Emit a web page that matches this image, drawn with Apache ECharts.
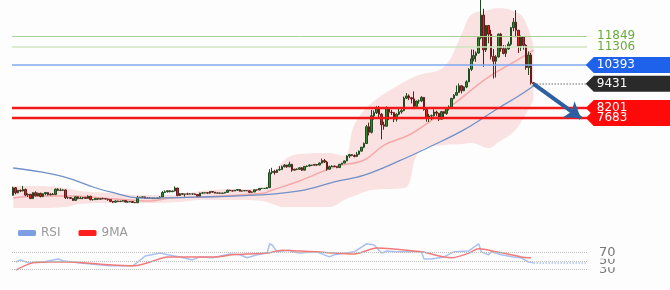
<!DOCTYPE html>
<html><head><meta charset="utf-8">
<script src="https://cdn.jsdelivr.net/npm/echarts@6/dist/echarts.min.js"></script>
<style>html,body{margin:0;padding:0;background:#fdfdfd}#c{width:670px;height:290px}</style>
</head><body><div id="c"></div>
<script>
// ---- data ----
const startDate = '2018-12-20';
const slotCount = 231;              // candles + empty room on the right
const firstOpen = 3750;
const closes = [
4130,3880,4000,3970,4050,3760,3800,3580,3880,3720,
3850,3690,3830,3890,3780,3810,3790,4060,4000,4010,
4020,3630,3630,3590,3490,3670,3580,3610,3640,3590,
3700,3530,3530,3590,3550,3580,3570,3560,3530,3440,
3400,3460,3430,3450,3480,3410,3410,3430,3380,3370,
3650,3640,3670,3590,3610,3600,3580,3590,3610,3660,
3890,3930,3980,3930,3970,4120,3740,3830,3800,3820,
3810,3820,3820,3790,3700,3860,3870,3880,3860,3940,
3910,3860,3870,3850,3860,3900,4010,3980,3970,4010,
4040,3960,3980,3990,3980,3900,3920,4030,4020,4100,
4100,4100,4140,4900,4970,4910,5040,5060,5200,5290,
5200,5330,5030,5080,5070,5150,5030,5220,5240,5290,
5280,5320,5290,5390,5520,5440,5080,5210,5240,5210,
5160,5330,5390,5500,5750,5820,5780,5730,5840,6000,
6200,6390,7240,6960,7800,7960,8200,7880,7340,7270,
8190,7980,7960,7630,7880,8000,8060,8700,8810,8720,
8660,8280,8550,8560,8740,8120,7670,7790,7800,7990,
7930,7630,8010,7920,8170,8230,8690,8850,8990,9330,
9080,9270,9530,10170,10700,10870,11000,11780,12930,11160,
12400,11960,10820,10580,10800,11960,11220,10980,11210,11450,
12290,12570,12160,11360,11820,11390,10260,10900,9480,9431];
const lows = [
3740,3800,3850,3910,3950,3720,3660,3560,3570,3700,
3700,3640,3650,3760,3740,3740,3760,3760,3970,3960,
3970,3560,3560,3560,3460,3480,3550,3560,3550,3580,
3580,3490,3480,3520,3510,3540,3550,3550,3470,3400,
3350,3390,3420,3410,3430,3390,3390,3400,3370,3350,
3360,3610,3600,3570,3580,3580,3560,3560,3580,3590,
3650,3870,3890,3900,3920,3950,3700,3720,3770,3680,
3790,3790,3780,3770,3680,3690,3820,3840,3820,3840,
3890,3840,3840,3830,3830,3850,3890,3970,3950,3960,
3980,3950,3950,3960,3960,3860,3880,3910,3990,4010,
4070,4080,4080,4130,4820,4800,4890,5000,5050,5170,
5150,5180,4950,5010,5030,5040,4990,5020,5180,5220,
5240,5260,5250,5280,5370,5400,5000,5060,5190,5190,
5130,5150,5320,5380,5490,5650,5740,5680,5720,5810,
5980,6150,6380,6800,6900,7600,7890,7700,6600,7090,
7260,7580,7840,7480,7510,7830,7910,8040,8650,8600,
8430,8140,8230,8420,8500,8060,7500,7480,7580,7760,
7790,7530,7610,7730,7850,8070,8180,8640,8830,8970,
8940,9050,9210,9520,10080,10570,10550,10960,11700,10300,
11050,11500,10670,9700,9750,10770,11070,10930,10800,11150,
11370,12110,11800,11000,11110,11170,10150,9880,9390,9370];
const highs = [
4190,4170,4010,4040,4230,4090,3850,3820,3900,3950,
3890,3880,3850,3920,3890,3850,3860,4090,4110,4100,
4060,4040,3680,3650,3610,3700,3690,3680,3650,3660,
3750,3720,3560,3610,3590,3600,3630,3590,3570,3540,
3450,3480,3480,3470,3500,3480,3440,3450,3440,3410,
3720,3670,3680,3680,3650,3660,3620,3630,3630,3700,
3960,4000,4000,4010,3990,4200,4130,3860,3850,3830,
3880,3860,3840,3840,3800,3880,3910,3920,3900,3950,
3960,3920,3890,3890,3880,3920,4030,4030,4010,4020,
4060,4060,4010,4010,4000,3990,3940,4040,4050,4110,
4130,4120,4170,5080,5150,5050,5060,5230,5270,5340,
5300,5460,5350,5100,5120,5170,5190,5240,5270,5320,
5300,5350,5340,5420,5620,5600,5500,5260,5280,5260,
5220,5340,5400,5520,5790,5850,5840,5830,5960,6030,
6200,6440,7330,7450,8100,8070,8290,8300,7940,7500,
8280,8200,8100,7980,7930,8160,8150,8780,8960,8890,
8760,9040,8570,8630,8800,8750,8130,7900,7860,8130,
8060,7950,8050,8020,8200,8330,8700,8900,9340,9450,
9350,9300,9610,10230,11180,11170,11080,11780,13880,13250,
12430,12430,12180,11200,10890,12000,12020,11400,11380,11580,
12330,12780,13180,12160,11890,11830,11450,11080,11000,9520];

// moving averages (sparse readings: candle index, value)
const maFastX = [0,11,23,35,47,55,63,75,91,101,103,115,129,141,149,159,167,179,191,204,209];
const maFastY = [3610,3710,3710,3610,3510,3460,3610,3660,3770,3870,3970,4480,5190,5550,6310,6820,7480,8600,9780,10750,11150];
const maSlowX = [0,11,22,31,39,51,75,99,115,129,141,155,168,181,195,203,209];
const maSlowY = [5140,4940,4630,4220,3920,3610,3660,3770,3970,4430,4780,5500,6260,7080,8200,8810,9320];

// envelope band (sparse readings)
const bandX = [0,11,21,27,39,51,67,75,91,100,103,109,115,127,133,137,144,157,163,173,180,184,191,195,201,205,209];
const bandUpper = [4220,4220,4120,3970,3870,3770,3770,3970,4070,4070,4630,5550,5850,5900,5750,7330,8450,9520,9880,10290,11920,12940,13190,13290,13140,12780,11410];
const bandLower = [3100,3100,3150,3310,3360,3360,3410,3510,3510,3460,3360,3150,3150,3150,3510,3710,4020,4120,5960,6310,6360,6410,6160,6470,6980,7690,8600];

// RSI panel (sparse readings)
const rsiX = [1,3,6,10,12,18,20,26,32,39,48,50,53,59,62,67,72,75,80,87,91,94,98,102,103,104,106,111,112,115,122,127,129,137,142,145,148,150,154,164,165,168,173,177,183,187,188,191,192,196,201,204,207,209];
const rsiY = [47,52,45,47,47,54,50,45,42,38,38,47,61,68,64,59,52,59,57,66,64,57,64,68,90,87,71,75,71,68,71,59,64,71,90,87,68,73,71,71,54,54,59,71,73,90,71,64,71,64,59,57,47,45];
const rsiMaX = [1,8,15,22,35,48,55,62,70,82,88,102,108,115,122,129,137,146,152,164,176,183,187,194,200,204,208];
const rsiMaY = [28,45,47,47,42,38,47,59,59,59,64,68,75,73,71,68,66,80,78,71,57,68,78,71,64,59,57];
const rsiLevels = [30, 50, 70];

// price levels
const greenLevels = [11849, 11306];
const blueLevel = 10393;
const redLevels = [8201, 7683];
const lastPrice = 9431;
const lastRsi = 45;

// ---- build ----
const cats = [];
const t0 = Date.parse(startDate + 'T00:00:00Z');
for (let i = 0; i < slotCount; i++) cats.push(new Date(t0 + i * 864e5).toISOString().slice(0, 10));
const ohlc = closes.map((c, i) => [i === 0 ? firstOpen : closes[i - 1], c, lows[i], highs[i]]);
const pairs = (xs, ys) => xs.map((x, i) => [x, ys[i]]);
const bandDiff = bandUpper.map((u, i) => u - bandLower[i]);
const lastIdx = closes.length - 1;
const edgeIdx = slotCount - 1;
const FONT = 'DejaVu Sans';

function tag(value, color) {
  return {
    coord: [cats[edgeIdx], value],
    symbol: 'path://M0,8L8,0L100,0L100,16L8,16Z',
    symbolSize: [100, 16], symbolOffset: [50, 0],
    itemStyle: { color: color },
    label: { show: true, formatter: String(value), color: '#fff', fontSize: 12, fontFamily: FONT,
             position: 'inside', align: 'left', offset: [-39, 0] }
  };
}

const option = {
  animation: false,
  backgroundColor: '#fdfdfd',
  textStyle: { fontFamily: FONT },
  legend: {
    data: [{ name: 'RSI', itemStyle: { color: '#7d9ee2' } }, { name: '9MA', itemStyle: { color: '#ff1e1e' } }],
    icon: 'roundRect', itemWidth: 18, itemHeight: 6, itemGap: 18,
    left: 13, top: 222,
    textStyle: { color: '#999', fontSize: 12, fontFamily: FONT }
  },
  grid: [
    { left: 12, right: 83, top: 0, height: 210 },
    { left: 12, right: 83, top: 239.5, height: 42.5 }
  ],
  xAxis: [
    { type: 'category', data: cats, gridIndex: 0, show: false, boundaryGap: true },
    { type: 'category', data: cats, gridIndex: 1, show: false, boundaryGap: true }
  ],
  yAxis: [
    { type: 'value', gridIndex: 0, min: 3000, max: 13700, show: false, splitLine: { show: false } },
    { type: 'value', gridIndex: 1, min: 0, max: 100, show: false, splitLine: { show: false } }
  ],
  series: [
    { name: 'bandLow', type: 'line', stack: 'band', data: pairs(bandX, bandLower), smooth: 0.4,
      symbol: 'none', lineStyle: { opacity: 0 }, z: 1, silent: true },
    { name: 'band', type: 'line', stack: 'band', data: pairs(bandX, bandDiff), smooth: 0.4,
      symbol: 'none', lineStyle: { opacity: 0 }, areaStyle: { color: 'rgba(244,150,150,0.26)', opacity: 1 }, z: 1, silent: true },
    { name: 'maFast', type: 'line', data: pairs(maFastX, maFastY), smooth: 0.4, symbol: 'none',
      lineStyle: { color: 'rgba(240,120,120,0.55)', width: 1.5 }, z: 2, silent: true },
    { name: 'price', type: 'candlestick', data: ohlc, barWidth: 2, z: 3,
      itemStyle: { color: '#2e8b2e', color0: '#e02222', borderColor: '#204a20', borderColor0: '#6a1a1a', borderWidth: 1 } },
    { name: 'maSlow', type: 'line', data: pairs(maSlowX, maSlowY), smooth: 0.4, symbol: 'none', clip: false,
      lineStyle: { color: '#7090c8', width: 1.3 }, z: 4, silent: true,
      markLine: {
        silent: true, symbol: ['none', 'none'], symbolSize: 14, animation: false,
        label: { show: false },
        data: [
          { yAxis: greenLevels[0], lineStyle: { color: '#a9d18e', width: 1, type: 'solid' },
            label: { show: true, position: 'end', distance: 10, formatter: String(greenLevels[0]), color: '#6aab3d', fontSize: 12, fontFamily: FONT } },
          { yAxis: greenLevels[1], lineStyle: { color: '#cfe6bf', width: 1.6, type: 'solid' },
            label: { show: true, position: 'end', distance: 10, formatter: String(greenLevels[1]), color: '#6aab3d', fontSize: 12, fontFamily: FONT } },
          { yAxis: blueLevel, lineStyle: { color: '#7ea8f0', width: 1.6, type: 'solid' } },
          { yAxis: redLevels[0], lineStyle: { color: '#f21818', width: 2.4, type: 'solid' } },
          { yAxis: redLevels[1], lineStyle: { color: '#f21818', width: 2.4, type: 'solid' } },
          [ { coord: [cats[lastIdx], lastPrice], lineStyle: { color: '#9a9a9a', width: 1.5, type: 'dotted' } },
            { coord: [cats[edgeIdx], lastPrice] } ],
          [ { coord: [cats[lastIdx], lastPrice], symbol: 'none', lineStyle: { color: '#2c5f9f', width: 4, type: 'solid' } },
            { coord: [cats[edgeIdx - 2], redLevels[1]], symbol: 'arrow', symbolSize: 15 } ]
        ]
      },
      markPoint: {
        silent: true, animation: false,
        data: [ tag(blueLevel, '#1e62ec'), tag(lastPrice, '#2a2a2a'), tag(redLevels[0], '#ff0a0a'), tag(redLevels[1], '#ff0a0a') ]
      }
    },
    { name: 'RSI', type: 'line', xAxisIndex: 1, yAxisIndex: 1, data: pairs(rsiX, rsiY), symbol: 'none', clip: false,
      itemStyle: { color: '#7d9ee2' }, lineStyle: { color: '#a9c1f2', width: 1.5 }, z: 3,
      markLine: {
        silent: true, symbol: ['none', 'none'], animation: false,
        data: rsiLevels.map(v => ({ yAxis: v, lineStyle: { color: '#bdbdbd', width: 1, type: 'dotted' },
          label: { show: true, position: 'end', distance: 10, formatter: String(v), color: '#777', fontSize: 13, fontFamily: FONT,
                   backgroundColor: '#fdfdfd', padding: [0, 2, 0, 2] } })).concat([
          [ { coord: [cats[lastIdx], lastRsi], lineStyle: { color: '#a9c1f2', width: 1.5, type: 'dotted' }, label: { show: false } },
            { coord: [cats[edgeIdx], lastRsi] } ]
        ])
      }
    },
    { name: '9MA', type: 'line', xAxisIndex: 1, yAxisIndex: 1, data: pairs(rsiMaX, rsiMaY), symbol: 'none', smooth: 0.3,
      itemStyle: { color: '#ff1e1e' }, lineStyle: { color: '#f27a7a', width: 1.5 }, z: 4 }
  ]
};
const chart = echarts.init(document.getElementById('c'));
chart.setOption(option);
</script></body></html>
